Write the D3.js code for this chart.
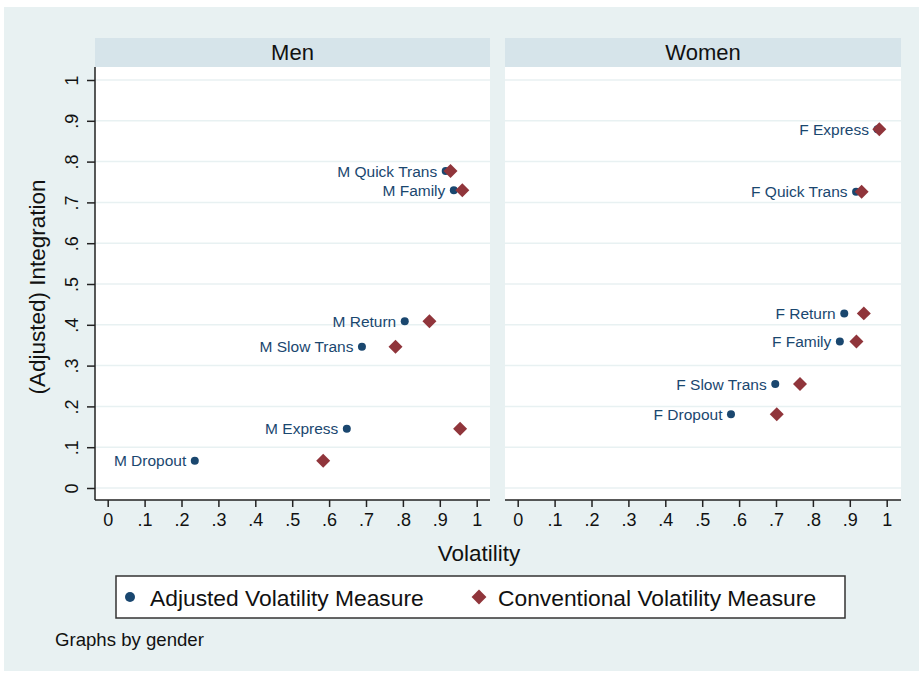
<!DOCTYPE html>
<html>
<head>
<meta charset="utf-8">
<script src="https://cdn.jsdelivr.net/npm/d3@7"></script>
<style>
  body { margin: 0; background: #fff; }
  svg text { font-family: "Liberation Sans", Arial, sans-serif; }
</style>
</head>
<body>
<svg id="chart" width="923" height="673"></svg>
<script>
// values
var menLabels = ["M Quick Trans", "M Family", "M Return", "M Slow Trans", "M Express", "M Dropout"];
var menAdjX = [0.916, 0.938, 0.805, 0.689, 0.648, 0.236];
var menConvX = [0.929, 0.961, 0.872, 0.780, 0.955, 0.584];
var menY = [0.777, 0.730, 0.409, 0.346, 0.145, 0.067];

var womenLabels = ["F Express", "F Quick Trans", "F Return", "F Family", "F Slow Trans", "F Dropout"];
var womenAdjX = [0.975, 0.917, 0.885, 0.873, 0.698, 0.578];
var womenConvX = [0.980, 0.932, 0.938, 0.918, 0.765, 0.702];
var womenY = [0.879, 0.726, 0.428, 0.359, 0.255, 0.181];

var panelNames = ["Men", "Women"];
var tickValues = [0, 0.1, 0.2, 0.3, 0.4, 0.5, 0.6, 0.7, 0.8, 0.9, 1];
var legendLabels = ["Adjusted Volatility Measure", "Conventional Volatility Measure"];

var blue = "#1a476f", red = "#90353b", bg = "#e8f1f2", strip = "#d6e4ea", grid = "#e8f1f2";

function stataFmt(d) {
	if (d === 0) return "0";
	if (d === 1) return "1";
	return d3.format(".1f")(d).replace(/^0/, "");
}

var svg = d3.select("#chart");

svg.append("rect")
	.attr("x", 4).attr("y", 7)
	.attr("width", 915).attr("height", 664)
	.attr("fill", bg);

var panels = [
	{ name: panelNames[0], left: 95, right: 490, labels: menLabels, adj: menAdjX, conv: menConvX, y: menY, yaxis: true },
	{ name: panelNames[1], left: 505, right: 901, labels: womenLabels, adj: womenAdjX, conv: womenConvX, y: womenY, yaxis: false }
];

var plotTop = 67, plotBottom = 500;
var y = d3.scaleLinear().domain([0, 1]).range([488, 80]);

panels.forEach(function (p) {
	var x = d3.scaleLinear().domain([0, 1]).range([p.left + 12.7, p.left + 381.7]);
	var g = svg.append("g");

	// header strip
	g.append("rect")
		.attr("x", p.left).attr("y", 38)
		.attr("width", p.right - p.left).attr("height", plotTop - 38)
		.attr("fill", strip);
	g.append("text")
		.attr("x", (p.left + p.right) / 2).attr("y", 60)
		.attr("text-anchor", "middle")
		.attr("font-size", 22)
		.attr("fill", "#111")
		.text(p.name);

	// plot region
	g.append("rect")
		.attr("x", p.left).attr("y", plotTop)
		.attr("width", p.right - p.left).attr("height", plotBottom - plotTop)
		.attr("fill", "#fff");

	g.selectAll("line.grid")
		.data(tickValues)
		.enter().append("line")
		.attr("class", "grid")
		.attr("x1", p.left).attr("x2", p.right)
		.attr("y1", function (d) { return y(d); })
		.attr("y2", function (d) { return y(d); })
		.attr("stroke", grid)
		.attr("stroke-width", 1.5);

	// x axis
	var xAxis = d3.axisBottom(x)
		.tickValues(tickValues)
		.tickFormat(stataFmt)
		.tickSize(7)
		.tickPadding(6);
	var gx = g.append("g")
		.attr("transform", "translate(0," + plotBottom + ")")
		.call(xAxis);
	gx.select(".domain").remove();
	gx.selectAll(".tick line").attr("stroke", "#222").attr("stroke-width", 1.5);
	gx.selectAll(".tick text")
		.attr("font-size", 18)
		.attr("fill", "#111")
		.attr("font-family", "Liberation Sans, Arial, sans-serif");
	g.append("line")
		.attr("x1", p.left).attr("x2", p.right)
		.attr("y1", plotBottom).attr("y2", plotBottom)
		.attr("stroke", "#222").attr("stroke-width", 1.5);

	if (p.yaxis) {
		var yAxis = d3.axisLeft(y)
			.tickValues(tickValues)
			.tickFormat(stataFmt)
			.tickSize(8);
		var gy = g.append("g")
			.attr("transform", "translate(" + p.left + ",0)")
			.call(yAxis);
		gy.select(".domain").remove();
		gy.selectAll(".tick line").attr("stroke", "#222").attr("stroke-width", 1.5);
		gy.selectAll(".tick text")
			.attr("font-size", 18)
			.attr("fill", "#111")
			.attr("font-family", "Liberation Sans, Arial, sans-serif")
			.attr("x", null).attr("dy", null)
			.attr("text-anchor", "middle")
			.attr("transform", "translate(-17,0) rotate(-90)");
		g.append("line")
			.attr("x1", p.left).attr("x2", p.left)
			.attr("y1", plotTop).attr("y2", plotBottom)
			.attr("stroke", "#222").attr("stroke-width", 1.5);
	}

	var pts = p.labels.map(function (lab, i) {
		return { label: lab, adj: p.adj[i], conv: p.conv[i], y: p.y[i] };
	});

	// labels to the left of adjusted points
	g.selectAll("text.mlab")
		.data(pts)
		.enter().append("text")
		.attr("class", "mlab")
		.attr("x", function (d) { return x(d.adj) - 8.5; })
		.attr("y", function (d) { return y(d.y); })
		.attr("dy", "0.36em")
		.attr("text-anchor", "end")
		.attr("font-size", 15.5)
		.attr("fill", blue)
		.text(function (d) { return d.label; });

	g.selectAll("circle.adj")
		.data(pts)
		.enter().append("circle")
		.attr("class", "adj")
		.attr("cx", function (d) { return x(d.adj); })
		.attr("cy", function (d) { return y(d.y); })
		.attr("r", 4)
		.attr("fill", blue);

	g.selectAll("path.conv")
		.data(pts)
		.enter().append("path")
		.attr("class", "conv")
		.attr("d", d3.symbol().type(d3.symbolSquare).size(98))
		.attr("transform", function (d) {
			return "translate(" + x(d.conv) + "," + y(d.y) + ") rotate(45)";
		})
		.attr("fill", red);
});

// axis titles
svg.append("text")
	.attr("x", 479).attr("y", 561)
	.attr("text-anchor", "middle")
	.attr("font-size", 22.5)
	.attr("fill", "#111")
	.text("Volatility");

svg.append("text")
	.attr("transform", "translate(45,287) rotate(-90)")
	.attr("text-anchor", "middle")
	.attr("font-size", 22.5)
	.attr("fill", "#111")
	.text("(Adjusted) Integration");

// legend
var lg = svg.append("g");
lg.append("rect")
	.attr("x", 116).attr("y", 576)
	.attr("width", 729).attr("height", 42)
	.attr("fill", "#fff")
	.attr("stroke", "#333")
	.attr("stroke-width", 1.5);
lg.append("circle")
	.attr("cx", 130).attr("cy", 597).attr("r", 5).attr("fill", blue);
lg.append("text")
	.attr("x", 150).attr("y", 606)
	.attr("font-size", 22.8).attr("fill", "#111")
	.text(legendLabels[0]);
lg.append("path")
	.attr("d", d3.symbol().type(d3.symbolSquare).size(110))
	.attr("transform", "translate(479,597) rotate(45)")
	.attr("fill", red);
lg.append("text")
	.attr("x", 498).attr("y", 606)
	.attr("font-size", 22.8).attr("fill", "#111")
	.text(legendLabels[1]);

svg.append("text")
	.attr("x", 55).attr("y", 646)
	.attr("font-size", 18.6)
	.attr("fill", "#111")
	.text("Graphs by gender");
</script>
</body>
</html>
